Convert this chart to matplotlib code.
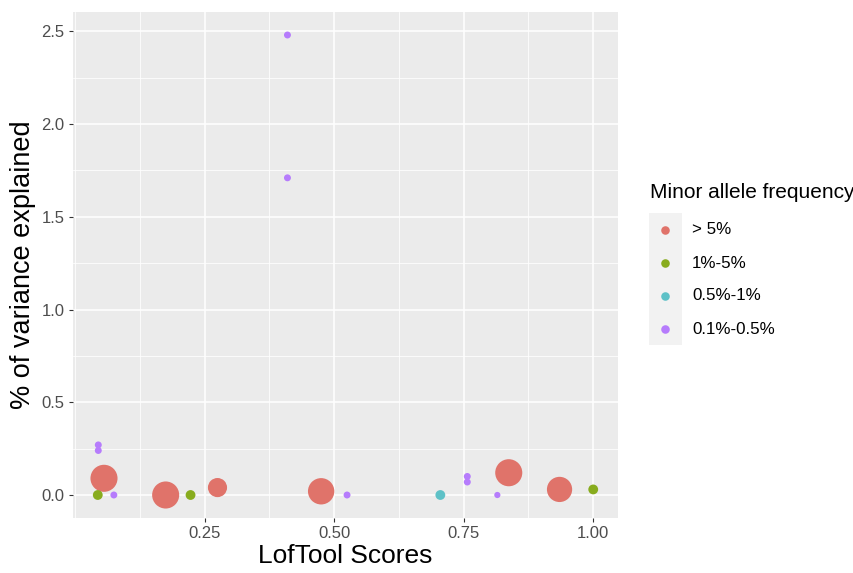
import matplotlib
matplotlib.use('Agg')
import matplotlib.pyplot as plt
from matplotlib.ticker import MultipleLocator

plt.rcParams['font.family'] = ['Liberation Sans', 'DejaVu Sans']

# ── data ──────────────────────────────────────────────────────────────────────
maf_groups = ['> 5%', '1%-5%', '0.5%-1%', '0.1%-0.5%']
group_colors = ['#E0736A', '#88AC1E', '#5EC1C7', '#B67CFC']

lof_score = [0.056, 0.175, 0.275, 0.475, 0.837, 0.935,
             0.044, 0.223, 1.00,
             0.705,
             0.045, 0.045, 0.075, 0.41, 0.41, 0.525, 0.757, 0.757, 0.815]
var_explained = [0.09, 0.00, 0.04, 0.02, 0.12, 0.03,
                 0.00, 0.00, 0.03,
                 0.00,
                 0.27, 0.24, 0.00, 2.48, 1.71, 0.00, 0.10, 0.07, 0.00]
maf_group = [0, 0, 0, 0, 0, 0,
             1, 1, 1,
             2,
             3, 3, 3, 3, 3, 3, 3, 3, 3]
n_variants = [38, 38, 19, 36, 38, 33,
              5, 5, 5,
              5,
              2.5, 2.5, 2.5, 2.5, 2.5, 2.5, 2.5, 2.5, 2]

xticks = [0.25, 0.50, 0.75, 1.00]
yticks = [0.0, 0.5, 1.0, 1.5, 2.0, 2.5]

PANEL = '#EBEBEB'
TXT = '#4D4D4D'

fig = plt.figure(figsize=(8.54, 5.73), dpi=100)
ax = fig.add_axes([73 / 854, 1 - 518 / 573, 545 / 854, 506 / 573])
ax.set_facecolor(PANEL)
for sp in ax.spines.values():
    sp.set_visible(False)

ax.scatter(lof_score, var_explained,
           s=[v * 10 for v in n_variants],
           c=[group_colors[g] for g in maf_group],
           linewidths=0, zorder=3)

# ggplot-style 5% expansion
xmin, xmax = min(lof_score), max(lof_score)
ymin, ymax = min(var_explained), max(var_explained)
dx, dy = (xmax - xmin) * 0.05, (ymax - ymin) * 0.05
ax.set_xlim(xmin - dx, xmax + dx)
ax.set_ylim(ymin - dy, ymax + dy)

ax.set_xticks(xticks)
ax.set_xticklabels([f'{t:.2f}' for t in xticks])
ax.set_yticks(yticks)
ax.set_yticklabels([f'{t:.1f}' for t in yticks])
ax.xaxis.set_minor_locator(MultipleLocator(0.125))
ax.yaxis.set_minor_locator(MultipleLocator(0.25))
ax.grid(True, which='major', color='white', lw=1.1, zorder=0)
ax.grid(True, which='minor', color='white', lw=0.55, zorder=0)
ax.set_axisbelow(True)
ax.tick_params(which='major', length=3, width=0.8, color='#333333',
               labelcolor=TXT, labelsize=12, pad=3)
ax.tick_params(which='minor', length=0)

ax.set_xlabel('LofTool Scores', fontsize=19, color='black', labelpad=2)
ax.set_ylabel('% of variance explained', fontsize=19.5, color='black', labelpad=4)

# ── legend ────────────────────────────────────────────────────────────────────
fig.text(650 / 854, 1 - 193 / 573, 'Minor allele frequency',
         fontsize=15, va='center', ha='left')
lax = fig.add_axes([649 / 854, 1 - 345 / 573, 33 / 854, 132 / 573])
lax.set_facecolor('#F2F2F2')
for sp in lax.spines.values():
    sp.set_visible(False)
lax.set_xticks([])
lax.set_yticks([])
n = len(maf_groups)
lax.set_xlim(0, 1)
lax.set_ylim(n, 0)
for i, (lab, col) in enumerate(zip(maf_groups, group_colors)):
    lax.scatter([0.5], [i + 0.5], s=38, color=col, linewidths=0)
    fig.text(692 / 854, 1 - (230 + 33 * i) / 573, lab,
             fontsize=12.2, va='center', ha='left')

fig.savefig('out.png', dpi=100)
